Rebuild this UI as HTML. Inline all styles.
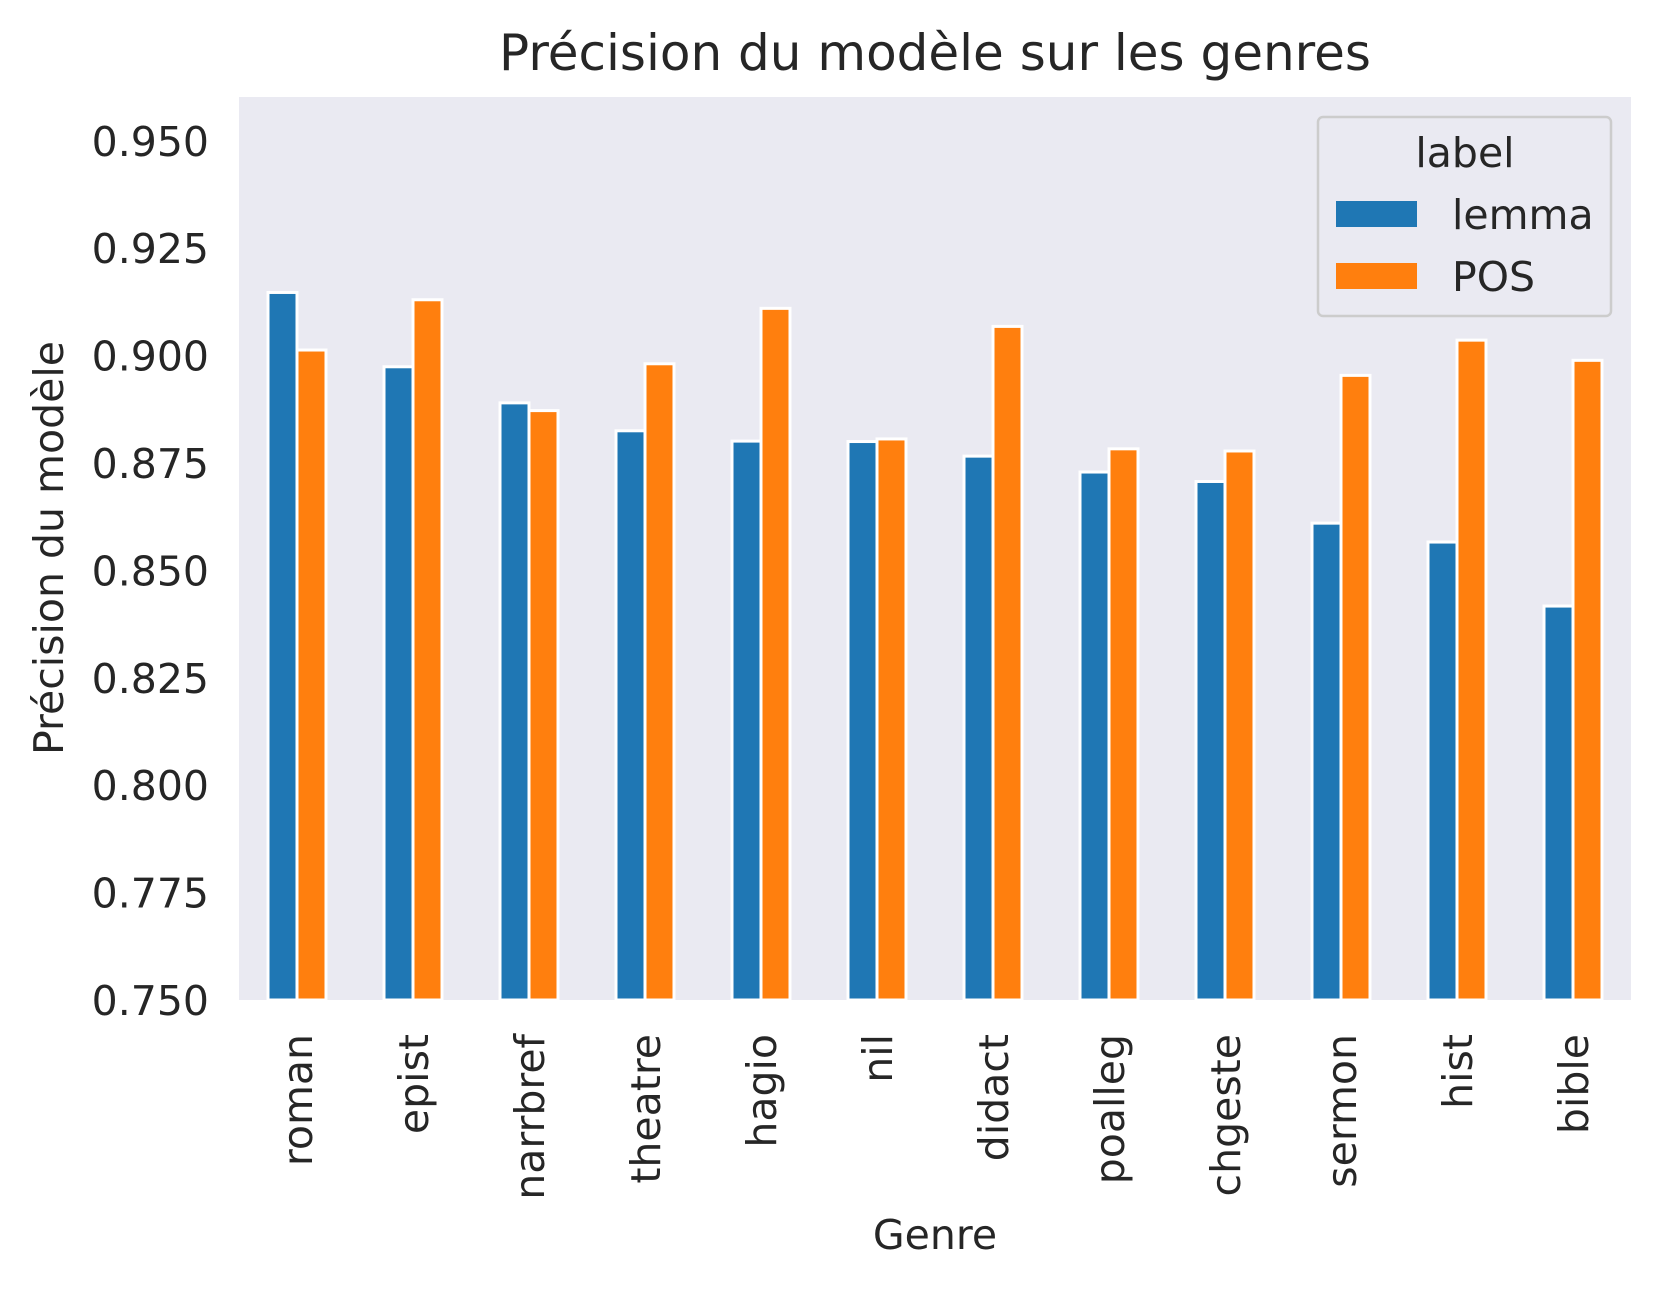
<!DOCTYPE html>
<html><head><meta charset="utf-8"><style>
html,body{margin:0;padding:0;background:#fff}
svg text{font-family:"DejaVu Sans","Liberation Sans",sans-serif;fill:#262626}
</style></head><body>
<svg id="chart" width="1662" height="1287" xmlns="http://www.w3.org/2000/svg">
<rect x="239" y="97" width="1392" height="903" fill="#eaeaf2"/>
<g id="bars"></g><g id="yticks"></g><g id="xticks"></g>
<text x="935" y="70" font-size="50" text-anchor="middle">Précision du modèle sur les genres</text>
<text x="935" y="1249" font-size="41" text-anchor="middle">Genre</text>
<text transform="translate(63,548) rotate(-90)" font-size="41" text-anchor="middle">Précision du modèle</text>
<g>
<rect x="1318" y="117" width="293" height="199" rx="5" fill="#eaeaf2" stroke="#cccccc" stroke-width="2.5"/>
<text x="1465" y="167" font-size="41" text-anchor="middle">label</text>
<rect x="1336" y="201" width="81" height="26" fill="#1f77b4"/>
<text x="1452" y="229" font-size="41">lemma</text>
<rect x="1336" y="263" width="81" height="26" fill="#ff7f0e"/>
<text x="1452" y="291" font-size="41">POS</text>
</g>
</svg>
<script>
const categories=["roman","epist","narrbref","theatre","hagio","nil","didact","poalleg","chgeste","sermon","hist","bible"];
const lemmaValues=[0.9147,0.8974,0.889,0.8825,0.8801,0.880,0.8766,0.8729,0.8707,0.861,0.8566,0.8417];
const posValues=[0.9013,0.913,0.8872,0.8981,0.911,0.8806,0.9068,0.8783,0.8778,0.8954,0.9036,0.8989];
const yTicks=[0.750,0.775,0.800,0.825,0.850,0.875,0.900,0.925,0.950];
const yTickLabels=["0.750","0.775","0.800","0.825","0.850","0.875","0.900","0.925","0.950"];
const NS="http://www.w3.org/2000/svg";
const X0=239,X1=1631,Y0=97,Y1=1000,YMIN=0.75,YMAX=0.9602;
function yScale(v){return Y1-(v-YMIN)/(YMAX-YMIN)*(Y1-Y0);}
const band=(X1-X0)/categories.length;
function xCenter(i){return X0+band*(i+0.5);}
const bw=band*0.25;
const gb=document.getElementById('bars'),gy=document.getElementById('yticks'),gx=document.getElementById('xticks');
function bar(i,v,off,color,series){
  const r=document.createElementNS(NS,'rect');
  const y=yScale(v);
  r.setAttribute('x',xCenter(i)+off);r.setAttribute('y',y);
  r.setAttribute('width',bw);r.setAttribute('height',Y1-y);
  r.setAttribute('fill',color);r.setAttribute('stroke','#fff');r.setAttribute('stroke-width','3');
  
  
  gb.appendChild(r);
}
categories.forEach((c,i)=>{
  bar(i,lemmaValues[i],-bw,'#1f77b4','lemma');
  bar(i,posValues[i],0,'#ff7f0e','pos');
  const t=document.createElementNS(NS,'text');
  t.setAttribute('transform','translate('+(xCenter(i)+15)+',1034) rotate(-90)');
  t.setAttribute('font-size','41');t.setAttribute('text-anchor','end');
  t.textContent=c;
  
  
  gx.appendChild(t);
});
yTicks.forEach((v,i)=>{
  const t=document.createElementNS(NS,'text');
  t.setAttribute('x',209);t.setAttribute('y',yScale(v)+15);
  t.setAttribute('font-size','41');t.setAttribute('text-anchor','end');
  t.textContent=yTickLabels[i];
  
  
  gy.appendChild(t);
});
</script>
</body></html>
